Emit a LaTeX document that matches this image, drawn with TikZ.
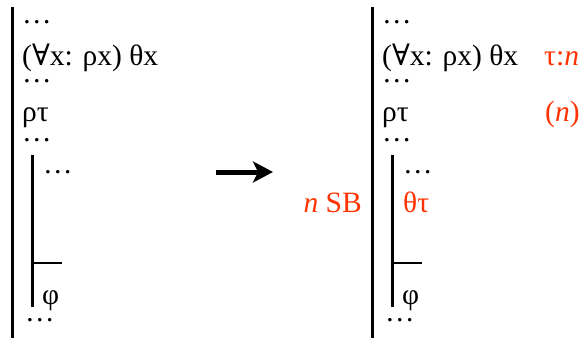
\documentclass[tikz,border=0pt]{standalone}
\usepackage{fontspec}
\setmainfont{Liberation Serif}
\newfontfamily\symfnt{DejaVu Serif}
\usetikzlibrary{arrows.meta}
\definecolor{hl}{RGB}{255,51,0}
\begin{document}
\begin{tikzpicture}[x=1pt,y=-1pt,
  txt/.style={anchor=base west,inner sep=0pt,font=\fontsize{29.5}{34}\selectfont},
  txte/.style={anchor=base east,inner sep=0pt,font=\fontsize{29.5}{34}\selectfont},
  dots/.style={txt,text height=3pt,text depth=0pt},
  hltxt/.style={text=hl},
  bar/.style={line width=3pt},
  tick/.style={line width=2pt},
  bigarrow/.style={line width=5pt,-{Stealth[length=20pt,width=21pt,inset=5pt]}}]
\useasboundingbox (0,0) rectangle (587,338);
% ---------- left panel ----------
\coordinate (Lt) at (12,7);
\coordinate (Lb) at (12,338);
\draw[bar] (Lt) -- (Lb);
\coordinate (Lit) at (32,155);
\coordinate (Lib) at (32,307);
\coordinate (Lk) at (32,263);
\coordinate (Lke) at (62,263);
\draw[bar] (Lit) -- (Lib);
\draw[tick] (Lk) -- (Lke);
\node[dots] (l1) at (22,23) {…};
\node[txt] (l2) at (22,65) {({\symfnt ∀}x: ρx) θx};
\node[dots] (l3) at (22,82) {…};
\node[txt] (l4) at (22,121) {ρτ};
\node[dots] (l5) at (22,141) {…};
\node[dots] (l6) at (43,173) {…};
\node[txt] (l7) at (42,304) {φ};
\node[dots] (l8) at (25,321) {…};
% ---------- arrow ----------
\coordinate (As) at (216,172);
\coordinate (Ae) at (273,172);
\draw[bigarrow] (As) -- (Ae);
% ---------- right panel ----------
\coordinate (Rt) at (372,7);
\coordinate (Rb) at (372,338);
\draw[bar] (Rt) -- (Rb);
\coordinate (Rit) at (392,155);
\coordinate (Rib) at (392,307);
\coordinate (Rk) at (392,263);
\coordinate (Rke) at (422,263);
\draw[bar] (Rit) -- (Rib);
\draw[tick] (Rk) -- (Rke);
\node[dots] (r1) at (382,23) {…};
\node[txt] (r2) at (382,65) {({\symfnt ∀}x: ρx) θx};
\node[txt,hltxt] (r2n) at (544,65) {τ:\textit{n}};
\node[dots] (r3) at (382,82) {…};
\node[txt] (r4) at (382,121) {ρτ};
\node[txt,hltxt] (r4n) at (545,121) {(\textit{n})};
\node[dots] (r5) at (382,141) {…};
\node[dots] (r6) at (403,173) {…};
\node[txt,hltxt] (r7) at (403,212) {θτ};
\node[txte,hltxt] (rsb) at (362,212) {\textit{n} SB};
\node[txt] (r8) at (402,304) {φ};
\node[dots] (r9) at (385,321) {…};
\end{tikzpicture}
\end{document}
